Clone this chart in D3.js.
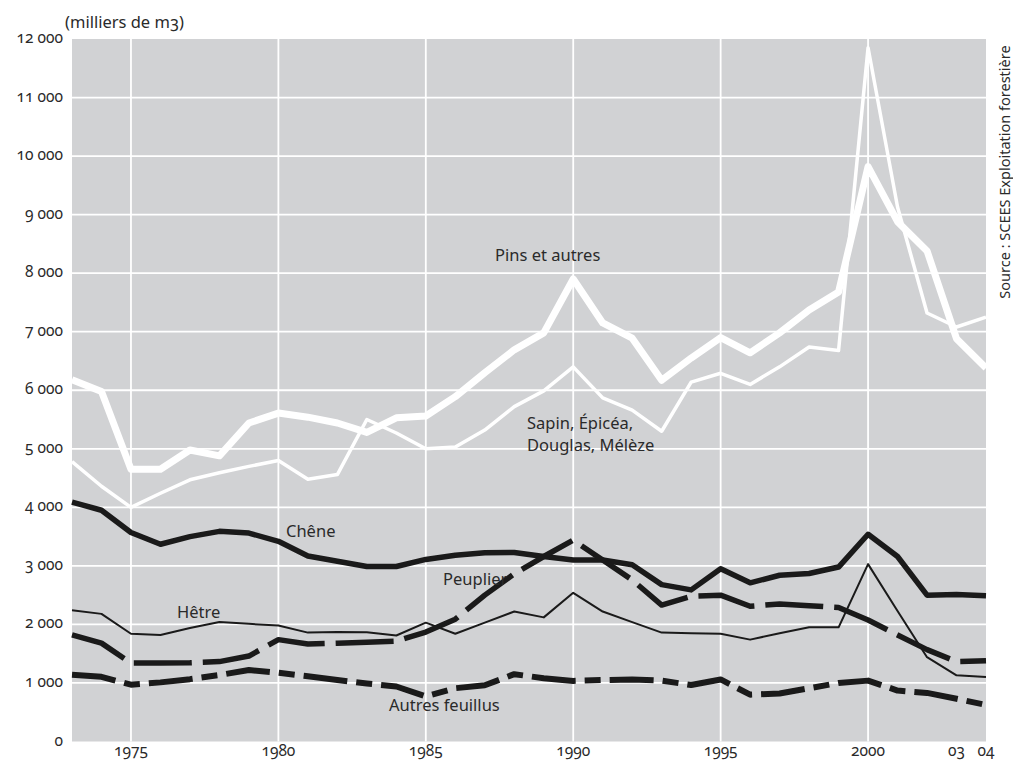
<!DOCTYPE html>
<html lang="fr">
<head>
<meta charset="UTF-8">
<title>Récolte de bois</title>
<script src="https://d3js.org/d3.v7.min.js"></script>
<style>
    body { margin: 0; background: #fff; }
    svg { display: block; }
    text {
        font-family: "Noto Sans", "Open Sans", sans-serif;
        font-variant-numeric: oldstyle-nums;
        fill: #2a2a2a;
    }
</style>
</head>
<body>
<div id="chart"></div>
<script>
// années 1973 - 2004, milliers de m3
const years = [1973, 1974, 1975, 1976, 1977, 1978, 1979, 1980, 1981, 1982, 1983, 1984, 1985, 1986, 1987, 1988,
               1989, 1990, 1991, 1992, 1993, 1994, 1995, 1996, 1997, 1998, 1999, 2000, 2001, 2002, 2003, 2004];

const pins     = [6180, 5980, 4650, 4650, 4980, 4880, 5440, 5610, 5540, 5440, 5280, 5530, 5560, 5890, 6300, 6690,
                  6980, 7900, 7150, 6890, 6170, 6550, 6900, 6640, 6980, 7370, 7680, 9820, 8880, 8380, 6880, 6380];
const sapin    = [4780, 4360, 4000, 4240, 4470, 4590, 4700, 4800, 4480, 4560, 5500, 5270, 5000, 5030, 5320, 5720,
                  5990, 6400, 5870, 5660, 5300, 6140, 6290, 6100, 6400, 6740, 6680, 11850, 9130, 7320, 7080, 7250];
const chene    = [4090, 3950, 3570, 3370, 3500, 3590, 3560, 3420, 3170, 3080, 2990, 2990, 3110, 3180, 3225, 3230,
                  3160, 3100, 3100, 3020, 2680, 2590, 2950, 2710, 2840, 2870, 2980, 3540, 3160, 2500, 2510, 2490];
const hetre    = [2240, 2180, 1840, 1820, 1940, 2040, 2010, 1980, 1860, 1870, 1865, 1810, 2030, 1840, 2030, 2220,
                  2120, 2540, 2220, 2040, 1860, 1850, 1840, 1740, 1850, 1950, 1950, 3030, 2230, 1440, 1130, 1100];
const peuplier = [1820, 1680, 1340, 1340, 1345, 1365, 1460, 1740, 1665, 1680, 1695, 1715, 1870, 2090, 2500, 2865,
                  3160, 3440, 3100, 2760, 2330, 2480, 2500, 2310, 2350, 2320, 2290, 2075, 1820, 1570, 1365, 1380];
const autres   = [1140, 1105, 970, 1010, 1065, 1135, 1220, 1175, 1115, 1050, 990, 940, 770, 910, 960, 1150,
                  1080, 1035, 1050, 1060, 1040, 965, 1060, 800, 820, 910, 1000, 1040, 870, 830, 730, 625];

const yTicks = [0, 1000, 2000, 3000, 4000, 5000, 6000, 7000, 8000, 9000, 10000, 11000, 12000];
const xTicks = [1975, 1980, 1985, 1990, 1995, 2000, 2003, 2004];
const xGrid  = [1975, 1980, 1985, 1990, 1995, 2000];

const width = 1013, height = 760;
const margin = { top: 39, right: 27, bottom: 18.5, left: 72 };

const svg = d3.select("#chart").append("svg").attr("width", width).attr("height", height);

const x = d3.scaleLinear().domain([1973, 2004]).range([margin.left, width - margin.right]);
const y = d3.scaleLinear().domain([0, 12000]).range([height - margin.bottom, margin.top]);

svg.append("rect")
    .attr("x", x(1973)).attr("y", y(12000))
    .attr("width", x(2004) - x(1973)).attr("height", y(0) - y(12000))
    .attr("fill", "#d1d2d4");

// grille
svg.selectAll(".hgrid").data(yTicks.filter(d => d > 0 && d < 12000)).enter().append("line")
    .attr("x1", x(1973)).attr("x2", x(2004))
    .attr("y1", d => y(d)).attr("y2", d => y(d))
    .attr("stroke", "#fff").attr("stroke-width", 1.8);
svg.selectAll(".vgrid").data(xGrid).enter().append("line")
    .attr("x1", d => x(d)).attr("x2", d => x(d))
    .attr("y1", y(0)).attr("y2", y(12000))
    .attr("stroke", "#fff").attr("stroke-width", 1.8);

// axes
const fmt = d => d3.format(",")(d).replace(/,/g, " ");
svg.selectAll(".ylab").data(yTicks).enter().append("text")
    .attr("x", 63).attr("y", d => y(d) + 4)
    .attr("text-anchor", "end").attr("font-size", 15.5)
    .text(fmt);
svg.selectAll(".xlab").data(xTicks).enter().append("text")
    .attr("x", d => x(d)).attr("y", 756)
    .attr("text-anchor", "middle").attr("font-size", 15.5)
    .text(d => d >= 2003 ? String(d).slice(2) : d);

svg.append("text").attr("x", 65).attr("y", 28).attr("font-size", 16.5).text("(milliers de m3)");
svg.append("text")
    .attr("transform", "translate(1010,172) rotate(-90)")
    .attr("text-anchor", "middle").attr("font-size", 14.5)
    .text("Source : SCEES Exploitation forestière");

// séries
const series = [
    { values: hetre,    color: "#1a1a1a", width: 2,   dash: null },
    { values: chene,    color: "#1a1a1a", width: 5.5, dash: null },
    { values: peuplier, color: "#1a1a1a", width: 5.5, dash: "58,11" },
    { values: autres,   color: "#1a1a1a", width: 6,   dash: "44,9,16,9" },
    { values: sapin,    color: "#ffffff", width: 3.5, dash: null },
    { values: pins,     color: "#ffffff", width: 7,   dash: null }
];

const line = d3.line().x((d, i) => x(years[i])).y(d => y(d));

svg.selectAll(".serie").data(series).enter().append("path")
    .attr("d", d => line(d.values))
    .attr("fill", "none")
    .attr("stroke", d => d.color)
    .attr("stroke-width", d => d.width)
    .attr("stroke-dasharray", d => d.dash)
    .attr("stroke-linejoin", "round");

// étiquettes
const labels = [
    { text: "Pins et autres", x: 495, y: 261 },
    { text: "Sapin, Épicéa,", x: 527, y: 429 },
    { text: "Douglas, Mélèze", x: 527, y: 451 },
    { text: "Chêne", x: 286, y: 537 },
    { text: "Peuplier", x: 443, y: 585 },
    { text: "Hêtre", x: 177, y: 618 },
    { text: "Autres feuillus", x: 389, y: 711 }
];
svg.selectAll(".lab").data(labels).enter().append("text")
    .attr("x", d => d.x).attr("y", d => d.y)
    .attr("font-size", 16.5)
    .text(d => d.text);
</script>
</body>
</html>
